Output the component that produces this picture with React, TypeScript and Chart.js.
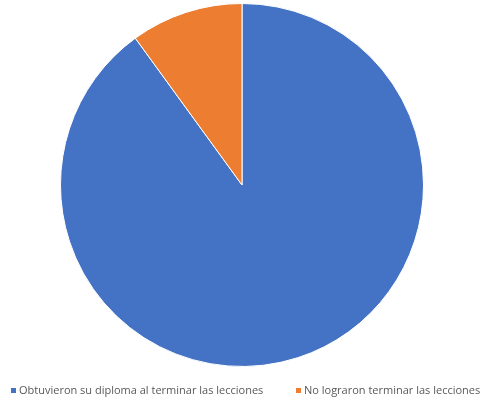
import React, { useEffect, useRef } from "react";
import { Chart, registerables } from "chart.js";

Chart.register(...registerables);

const categories = [
  "Obtuvieron su diploma al terminar las lecciones",
  "No lograron terminar las lecciones",
];
const values = [90, 10];
const colors = ["#4472C4", "#ED7D31"];
const legendX = [11, 296];

export default function App() {
  const ref = useRef<HTMLCanvasElement>(null);
  useEffect(() => {
    document.body.style.margin = "0";
    const legendPlugin = {
      id: "customLegend",
      afterDraw(chart: any) {
        const ctx = chart.ctx;
        ctx.save();
        ctx.font = "11px 'Open Sans'";
        ctx.textBaseline = "middle";
        categories.forEach((c, i) => {
          ctx.fillStyle = colors[i];
          ctx.fillRect(legendX[i], 388, 5, 5);
          ctx.fillStyle = "#595959";
          ctx.fillText(c, legendX[i] + 8, 390.5);
        });
        ctx.restore();
      },
    };
    const chart = new Chart(ref.current!, {
      type: "pie",
      data: {
        labels: categories,
        datasets: [
          {
            data: values,
            backgroundColor: colors,
            borderColor: "#ffffff",
            borderWidth: 1,
          },
        ],
      },
      options: {
        animation: false,
        responsive: false,
        layout: { padding: { top: 3, bottom: 35, left: 60, right: 59 } },
        plugins: { legend: { display: false }, tooltip: { enabled: false } },
      },
      plugins: [legendPlugin],
    });
    return () => chart.destroy();
  }, []);
  return (
    <div style={{ width: 483, height: 402 }}>
      <canvas ref={ref} width={483} height={402} style={{ display: "block" }} />
    </div>
  );
}
